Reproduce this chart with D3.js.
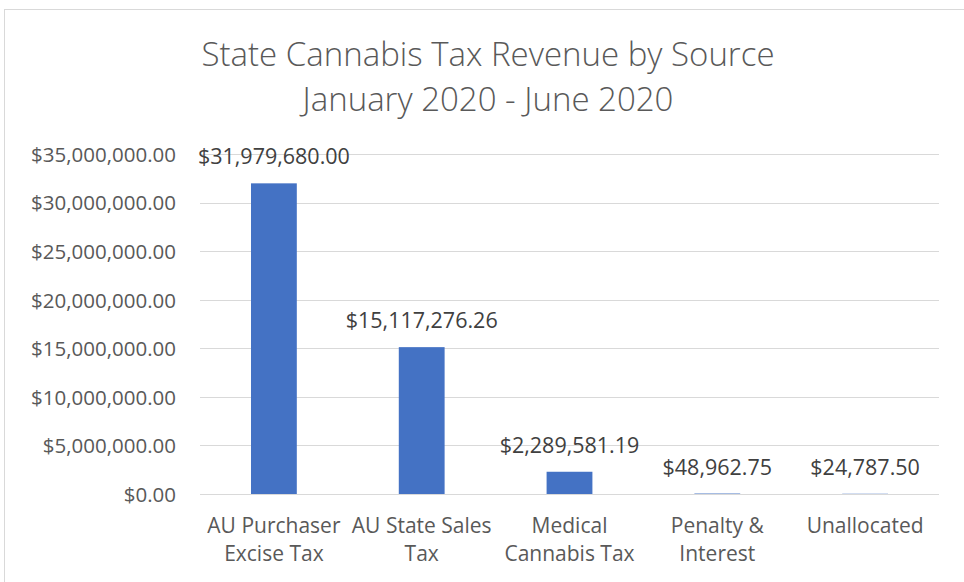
<!DOCTYPE html>
<html>
<head>
<meta charset="utf-8">
<script src="https://cdn.jsdelivr.net/npm/d3@7"></script>
<style>
  html, body { margin: 0; padding: 0; background: #fff; }
  svg { display: block; }
</style>
</head>
<body>
<svg id="chart" width="964" height="582"></svg>
<script>
const titleLines = ["State Cannabis Tax Revenue by Source", "January 2020 - June 2020"];
const categories = ["AU Purchaser Excise Tax", "AU State Sales Tax", "Medical Cannabis Tax", "Penalty & Interest", "Unallocated"];
const values = [31979680.00, 15117276.26, 2289581.19, 48962.75, 24787.50];
const yTicks = [0, 5000000, 10000000, 15000000, 20000000, 25000000, 30000000, 35000000];

const W = 964, H = 582;
const margin = { left: 200, right: 25, top: 154, bottom: 88 };
const svg = d3.select("#chart");
const font = "'Open Sans', 'Noto Sans', sans-serif";
const fs = 21;

// chart border
svg.append("rect")
  .attr("x", 4.5).attr("y", 9.5)
  .attr("width", W + 20).attr("height", H + 20)
  .attr("fill", "#fff").attr("stroke", "#d9d9d9").attr("stroke-width", 1);

const x = d3.scaleBand().domain(categories)
  .range([margin.left, W - margin.right])
  .paddingInner(0.69).paddingOuter(0.345);
const y = d3.scaleLinear().domain([0, 35000000]).range([H - margin.bottom, margin.top]);

const money = v => "$" + d3.format(",.2f")(v);

// gridlines
svg.append("g").selectAll("line").data(yTicks).join("line")
  .attr("x1", margin.left).attr("x2", W - margin.right)
  .attr("y1", d => Math.round(y(d)) + 0.5).attr("y2", d => Math.round(y(d)) + 0.5)
  .attr("stroke", "#d9d9d9").attr("stroke-width", 1.2);

// y axis via d3.axisLeft
const yAxis = svg.append("g")
  .attr("transform", `translate(${margin.left - 24},0)`)
  .call(d3.axisLeft(y).tickValues(yTicks).tickFormat(money).tickSize(0).tickPadding(0));
yAxis.select(".domain").remove();
yAxis.selectAll("text")
  .attr("font-family", font).attr("font-size", fs - 0.5).attr("fill", "#595959")
  .attr("dy", "0.36em");

// bars
svg.append("g").selectAll("rect").data(values).join("rect")
  .attr("x", (d, i) => x(categories[i]))
  .attr("width", x.bandwidth())
  .attr("y", d => y(d))
  .attr("height", d => y(0) - y(d))
  .attr("fill", "#4472c4");

// value labels
svg.append("g").selectAll("text").data(values).join("text")
  .attr("x", (d, i) => x(categories[i]) + x.bandwidth() / 2)
  .attr("y", d => y(d) - 19)
  .attr("text-anchor", "middle")
  .attr("font-family", font).attr("font-size", fs + 0.5).attr("fill", "#404040")
  .text(d => money(d));

// x axis labels (wrapped)
const xAxis = svg.append("g")
  .attr("transform", `translate(0,${y(0)})`)
  .call(d3.axisBottom(x).tickSize(0).tickPadding(0));
xAxis.select(".domain").remove();
xAxis.selectAll("text").remove();
const maxW = 158;
xAxis.selectAll(".tick").each(function(cat) {
  const g = d3.select(this);
  const t = g.append("text").attr("text-anchor", "middle")
    .attr("font-family", font).attr("font-size", fs).attr("fill", "#595959");
  const words = cat.split(" ");
  const lines = [];
  let cur = [];
  const probe = t.append("tspan");
  words.forEach(w => {
    const test = cur.concat([w]).join(" ");
    probe.text(test);
    if (probe.node().getComputedTextLength() > maxW && cur.length) {
      lines.push(cur.join(" "));
      cur = [w];
    } else cur.push(w);
  });
  if (cur.length) lines.push(cur.join(" "));
  probe.remove();
  lines.forEach((ln, i) => {
    t.append("tspan").attr("x", 0).attr("y", 39 + i * 28).text(ln);
  });
});

// title
svg.append("g").selectAll("text").data(titleLines).join("text")
  .attr("x", 488).attr("y", (d, i) => 66 + i * 45)
  .attr("text-anchor", "middle")
  .attr("font-family", font).attr("font-size", 33).attr("font-weight", 300)
  .attr("fill", "#595959")
  .text(d => d);
</script>
</body>
</html>
